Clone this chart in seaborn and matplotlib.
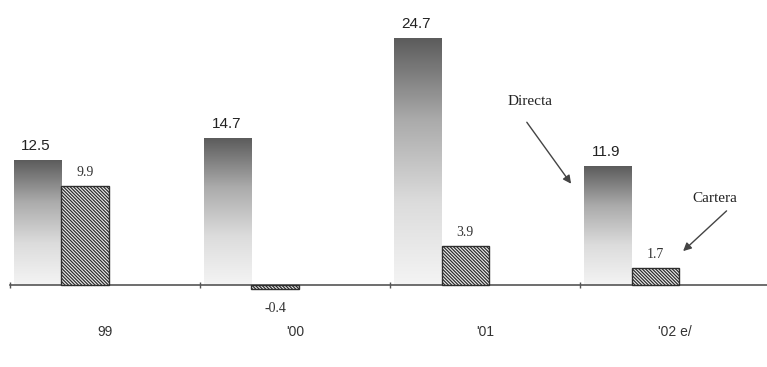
import matplotlib
matplotlib.use("Agg")
import matplotlib.pyplot as plt
import numpy as np
import pandas as pd
import seaborn as sns

# ---- data ----
years = ["99", "'00", "'01", "'02 e/"]
directa = [12.5, 14.7, 24.7, 11.9]
cartera = [9.9, -0.4, 3.9, 1.7]
series_names = ["Directa", "Cartera"]

df = pd.DataFrame({
    "year": years * 2,
    "value": directa + cartera,
    "serie": [series_names[0]] * len(years) + [series_names[1]] * len(years),
})

sns.set_theme(style="white")
plt.rcParams["font.family"] = ["Liberation Sans", "DejaVu Sans"]
plt.rcParams["hatch.linewidth"] = 0.9

fig = plt.figure(figsize=(7.67, 3.67), dpi=100)
ax = fig.add_axes([10 / 767, 0, 1 - 10 / 767, 1])

sns.barplot(data=df, x="year", y="value", hue="serie", order=years,
            hue_order=series_names, width=0.5, dodge=True, ax=ax,
            legend=False, errorbar=None, linewidth=0)

xlim = (-0.266, 3.712)
ylim = (-8.2, 28.5)

# Directa: vertical gradient fill
grad = np.linspace(0, 1, 256).reshape(-1, 1)
cmap = matplotlib.colors.LinearSegmentedColormap.from_list(
    "g", ["#f4f4f4", "#dcdcdc", "#ababab", "#5c5c5c"])
for p in ax.containers[0]:
    x, y0 = p.get_x(), p.get_y()
    w, h = p.get_width(), p.get_height()
    p.set_facecolor("none")
    p.set_edgecolor("none")
    im = ax.imshow(grad, extent=[x, x + w, y0, y0 + h], origin="lower",
                   aspect="auto", cmap=cmap, zorder=2)
    im.set_clip_path(p)

# Cartera: hatched
for p in ax.containers[1]:
    p.set_facecolor("#f0f0f0")
    p.set_edgecolor("#2e2e2e")
    p.set_hatch("\\" * 10)
    p.set_linewidth(1.0)
    p.set_zorder(3)

ax.set_xlim(*xlim)
ax.set_ylim(*ylim)

# value labels
for p, v in zip(ax.containers[0], directa):
    ax.annotate(f"{v:.1f}", (p.get_x() + p.get_width() / 2, v),
                xytext=(-1, 5), textcoords="offset points", ha="center",
                va="bottom", fontsize=11, color="#222222",
                family=["Liberation Sans"])
for p, v in zip(ax.containers[1], cartera):
    off = 5 if v >= 0 else -9
    ax.annotate(f"{v:.1f}", (p.get_x() + p.get_width() / 2, v),
                xytext=(0, off), textcoords="offset points", ha="center",
                va="bottom" if v >= 0 else "top", fontsize=10,
                color="#333333", family=["Liberation Serif"])

# arrows with series names
ax.text(2.466, 18.4, "Directa", ha="center", va="center", fontsize=11,
        family=["Liberation Serif"], color="#222222")
ax.annotate("", xy=(2.69, 9.9), xytext=(2.44, 16.5),
            arrowprops=dict(arrowstyle="-|>", color="#444444", lw=1.0,
                            mutation_scale=12))
ax.text(3.44, 8.7, "Cartera", ha="center", va="center", fontsize=11,
        family=["Liberation Serif"], color="#222222")
ax.annotate("", xy=(3.26, 3.2), xytext=(3.51, 7.6),
            arrowprops=dict(arrowstyle="-|>", color="#444444", lw=1.0,
                            mutation_scale=12))

# axes styling
for s in ["left", "top", "right"]:
    ax.spines[s].set_visible(False)
ax.spines["bottom"].set_position(("data", 0))
ax.spines["bottom"].set_color("#555555")
ax.spines["bottom"].set_linewidth(1.2)
ax.set_yticks([])
ax.set_ylabel("")
ax.set_xlabel("")
ax.set_xticks([i + 0.23 for i in range(len(years))])
ax.set_xticklabels(years, fontsize=10, color="#333333")
ax.set_xticks([i - 0.27 for i in range(len(years))], minor=True)
ax.tick_params(axis="x", which="major", length=0, pad=29)
ax.tick_params(axis="x", which="minor", length=5, direction="inout",
               color="#555555", width=1, bottom=True)
ax.set_facecolor("white")
fig.patch.set_facecolor("white")

fig.savefig("out.png", dpi=100)
